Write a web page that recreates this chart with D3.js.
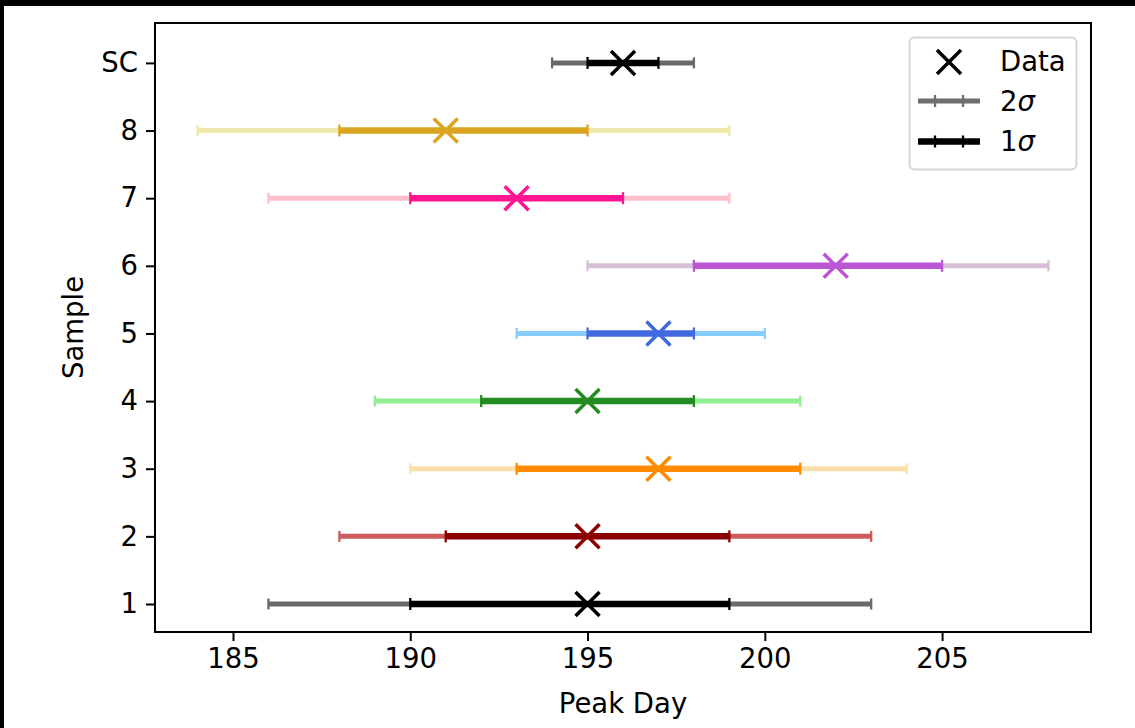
<!DOCTYPE html>
<html>
<head>
<meta charset="utf-8">
<script src="https://cdn.jsdelivr.net/npm/d3@7"></script>
<style>
  html, body { margin: 0; padding: 0; background: #fff; }
  svg { display: block; }
  text { font-family: "DejaVu Sans", sans-serif; }
</style>
</head>
<body>
<svg id="chart"></svg>
<script>
// Werte
const samples = ["1", "2", "3", "4", "5", "6", "7", "8", "SC"];
const peakDay = [195, 195, 197, 195, 197, 202, 193, 191, 196];
const lo1 = [190, 191, 193, 192, 195, 198, 190, 188, 195];
const hi1 = [199, 199, 201, 198, 198, 205, 196, 195, 197];
const lo2 = [186, 188, 190, 189, 193, 195, 186, 184, 194];
const hi2 = [203, 203, 204, 201, 200, 208, 199, 199, 198];
const darkColors = ["black", "darkred", "darkorange", "forestgreen", "royalblue", "mediumorchid", "deeppink", "goldenrod", "black"];
const lightColors = ["dimgray", "indianred", "navajowhite", "lightgreen", "lightskyblue", "thistle", "pink", "palegoldenrod", "dimgray"];
const xTicks = [185, 190, 195, 200, 205];

const W = 1135, H = 728;
const mLeft = 155, mRight = 1091, mTop = 23, mBottom = 632;
const FS = 27.5;

const svg = d3.select("#chart").attr("width", W).attr("height", H);

// schwarzer Rand oben und links wie im Original
svg.append("rect").attr("x", 0).attr("y", 0).attr("width", W).attr("height", 6).attr("fill", "black");
svg.append("rect").attr("x", 0).attr("y", 0).attr("width", 4).attr("height", H).attr("fill", "black");

const x = d3.scaleLinear().domain([182.8, 209.2]).range([mLeft, mRight]);
const y = d3.scaleLinear().domain([-0.414, 8.59]).range([mBottom, mTop]);

const rows = samples.map((s, i) => ({
    s, i, peak: peakDay[i], lo1: lo1[i], hi1: hi1[i], lo2: lo2[i], hi2: hi2[i],
    dark: darkColors[i], light: lightColors[i]
}));

const plot = svg.append("g");

function drawBar(g, d, a, b, color, lw, capH) {
    const yy = y(d.i);
    g.append("line")
        .attr("x1", x(a)).attr("x2", x(b))
        .attr("y1", yy).attr("y2", yy)
        .attr("stroke", color).attr("stroke-width", lw);
    [a, b].forEach(v => {
        g.append("line")
            .attr("x1", x(v)).attr("x2", x(v))
            .attr("y1", yy - capH / 2).attr("y2", yy + capH / 2)
            .attr("stroke", color).attr("stroke-width", 2.3);
    });
}

function drawX(g, cx, cy, color) {
    const r = 12;
    g.append("path")
        .attr("d", `M${cx - r},${cy - r}L${cx + r},${cy + r}M${cx - r},${cy + r}L${cx + r},${cy - r}`)
        .attr("stroke", color).attr("stroke-width", 3.5).attr("fill", "none");
}

// 2 sigma unten, 1 sigma darüber, dann Marker
rows.forEach(d => drawBar(plot, d, d.lo2, d.hi2, d.light, 5, 11));
rows.forEach(d => drawBar(plot, d, d.lo1, d.hi1, d.dark, 6.5, 12));
rows.forEach(d => drawX(plot, x(d.peak), y(d.i), d.dark));

// Achsen
const xAxis = svg.append("g")
    .attr("transform", `translate(0,${mBottom})`)
    .call(d3.axisBottom(x).tickValues(xTicks).tickSize(9).tickPadding(7));
const yAxis = svg.append("g")
    .attr("transform", `translate(${mLeft},0)`)
    .call(d3.axisLeft(y).tickValues(d3.range(samples.length)).tickFormat(i => samples[i]).tickSize(9).tickPadding(8));

[xAxis, yAxis].forEach(a => {
    a.select(".domain").remove();
    a.selectAll(".tick line").attr("stroke", "black").attr("stroke-width", 2);
    a.selectAll(".tick text").attr("font-size", FS).attr("fill", "black")
        .style("font-family", "'DejaVu Sans', sans-serif");
});

svg.append("rect")
    .attr("x", mLeft).attr("y", mTop)
    .attr("width", mRight - mLeft).attr("height", mBottom - mTop)
    .attr("fill", "none").attr("stroke", "black").attr("stroke-width", 2);

svg.append("text")
    .attr("x", (mLeft + mRight) / 2).attr("y", 713)
    .attr("text-anchor", "middle").attr("font-size", FS)
    .text("Peak Day");

svg.append("text")
    .attr("transform", `translate(83,${(mTop + mBottom) / 2}) rotate(-90)`)
    .attr("text-anchor", "middle").attr("font-size", FS)
    .text("Sample");

// Legende
const legend = svg.append("g");
legend.append("rect")
    .attr("x", 909.5).attr("y", 37.5).attr("width", 167).attr("height", 132)
    .attr("rx", 5).attr("fill", "white").attr("fill-opacity", 0.8)
    .attr("stroke", "#d6d6d6").attr("stroke-width", 2);

drawX(legend, 949, 62, "black");
const legendLines = [
    { yy: 101, color: "#6e6e6e", lw: 5 },
    { yy: 141.5, color: "black", lw: 6.5 }
];
legendLines.forEach(l => {
    legend.append("line").attr("x1", 918).attr("x2", 980).attr("y1", l.yy).attr("y2", l.yy)
        .attr("stroke", l.color).attr("stroke-width", l.lw);
    [935, 963].forEach(cx => {
        legend.append("line").attr("x1", cx).attr("x2", cx).attr("y1", l.yy - 6).attr("y2", l.yy + 6)
            .attr("stroke", l.color).attr("stroke-width", 2.3);
    });
});

const legendLabels = [["Data", null], ["2", "σ"], ["1", "σ"]];
legendLabels.forEach(([a, b], k) => {
    const t = legend.append("text").attr("x", 1000).attr("y", 71 + k * 40).attr("font-size", FS);
    t.append("tspan").text(a);
    if (b) t.append("tspan").attr("font-style", "italic").text(b);
});
</script>
</body>
</html>
